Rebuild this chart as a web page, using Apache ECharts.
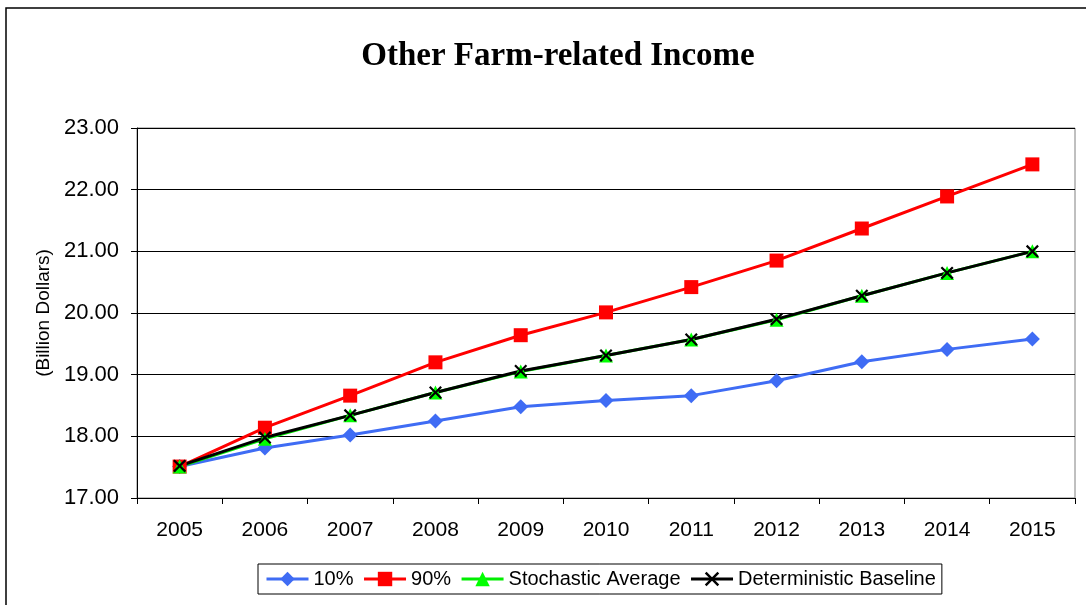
<!DOCTYPE html>
<html lang="en" style="height: 100%">
<head>
  <meta charset="utf-8">
</head>
<body style="height: 100%; margin: 0">
<div id="container" style="height: 100%"></div>
<script type="text/javascript" src="https://cdn.jsdelivr.net/npm/echarts@6/dist/echarts.min.js"></script>
<script type="text/javascript">
  // data
  var years = ['2005', '2006', '2007', '2008', '2009', '2010', '2011', '2012', '2013', '2014', '2015'];
  var pct10 = [17.51, 17.81, 18.02, 18.25, 18.48, 18.58, 18.66, 18.90, 19.21, 19.41, 19.58];
  var pct90 = [17.51, 18.14, 18.66, 19.20, 19.64, 20.01, 20.42, 20.85, 21.37, 21.89, 22.41];
  var stochAvg = [17.51, 17.96, 18.34, 18.71, 19.05, 19.31, 19.57, 19.89, 20.28, 20.65, 21.00];
  var baseline = [17.52, 17.98, 18.34, 18.71, 19.06, 19.31, 19.57, 19.90, 20.28, 20.65, 21.00];

  // filled "x" marker for the baseline
  var xMark = 'path://M0,1.2L1.2,0L5,3.8L8.8,0L10,1.2L6.2,5L10,8.8L8.8,10L5,6.2L1.2,10L0,8.8L3.8,5Z';

  var dom = document.getElementById('container');
  var myChart = echarts.init(dom, null, { renderer: 'canvas' });

  var option = {
    animation: false,
    title: {
      text: 'Other Farm-related Income',
      left: 553,
      textAlign: 'center',
      top: 35,
      textStyle: {
        fontFamily: 'Liberation Serif',
        fontWeight: 'bold',
        fontSize: 33,
        color: '#000'
      }
    },
    graphic: [{
      type: 'rect',
      shape: { x: 6, y: 8, width: 1100, height: 620 },
      style: { fill: null, stroke: '#000', lineWidth: 1.5 },
      silent: true
    }],
    grid: {
      left: 137,
      right: 11,
      top: 128,
      bottom: 107,
      show: true,
      borderColor: '#808080',
      borderWidth: 1
    },
    legend: {
      top: 564,
      left: 258,
      itemGap: 9,
      itemWidth: 42,
      itemHeight: 18,
      padding: [5, 6, 5, 7],
      borderColor: '#000',
      borderWidth: 1,
      lineStyle: { width: 3 },
      textStyle: { fontFamily: 'Liberation Sans', fontSize: 20, color: '#000' },
      data: ['10%', '90%', 'Stochastic Average', 'Deterministic Baseline']
    },
    xAxis: {
      type: 'category',
      data: years,
      boundaryGap: true,
      axisLine: { lineStyle: { color: '#000', width: 1 } },
      axisTick: { show: true, length: 6, lineStyle: { color: '#000' } },
      axisLabel: { fontFamily: 'Liberation Sans', fontSize: 21, color: '#000', margin: 22 }
    },
    yAxis: {
      type: 'value',
      min: 17,
      max: 23,
      interval: 1,
      name: '(Billion Dollars)',
      nameLocation: 'middle',
      nameGap: 84,
      nameTextStyle: { fontFamily: 'Liberation Sans', fontSize: 19, color: '#000' },
      axisLine: { show: true, lineStyle: { color: '#000', width: 1 } },
      axisTick: { show: true, length: 6, lineStyle: { color: '#000' } },
      axisLabel: {
        fontFamily: 'Liberation Sans', fontSize: 22, color: '#000', margin: 18,
        formatter: function (v) { return v.toFixed(2); }
      },
      splitLine: { show: true, lineStyle: { color: '#000', width: 1 } }
    },
    series: [
      {
        name: '10%',
        type: 'line',
        data: pct10,
        symbol: 'diamond',
        symbolSize: 15,
        lineStyle: { color: '#3f6cf4', width: 3 },
        itemStyle: { color: '#3f6cf4' }
      },
      {
        name: '90%',
        type: 'line',
        data: pct90,
        symbol: 'rect',
        symbolSize: 14,
        lineStyle: { color: '#ff0000', width: 3 },
        itemStyle: { color: '#ff0000' }
      },
      {
        name: 'Stochastic Average',
        type: 'line',
        data: stochAvg,
        symbol: 'triangle',
        symbolSize: 14,
        lineStyle: { color: '#00ee00', width: 3 },
        itemStyle: { color: '#00ff00' }
      },
      {
        name: 'Deterministic Baseline',
        type: 'line',
        data: baseline,
        symbol: xMark,
        symbolSize: 13,
        lineStyle: { color: '#000', width: 3 },
        itemStyle: { color: '#000' }
      }
    ]
  };

  myChart.setOption(option);
  window.addEventListener('resize', myChart.resize);
</script>
</body>
</html>
